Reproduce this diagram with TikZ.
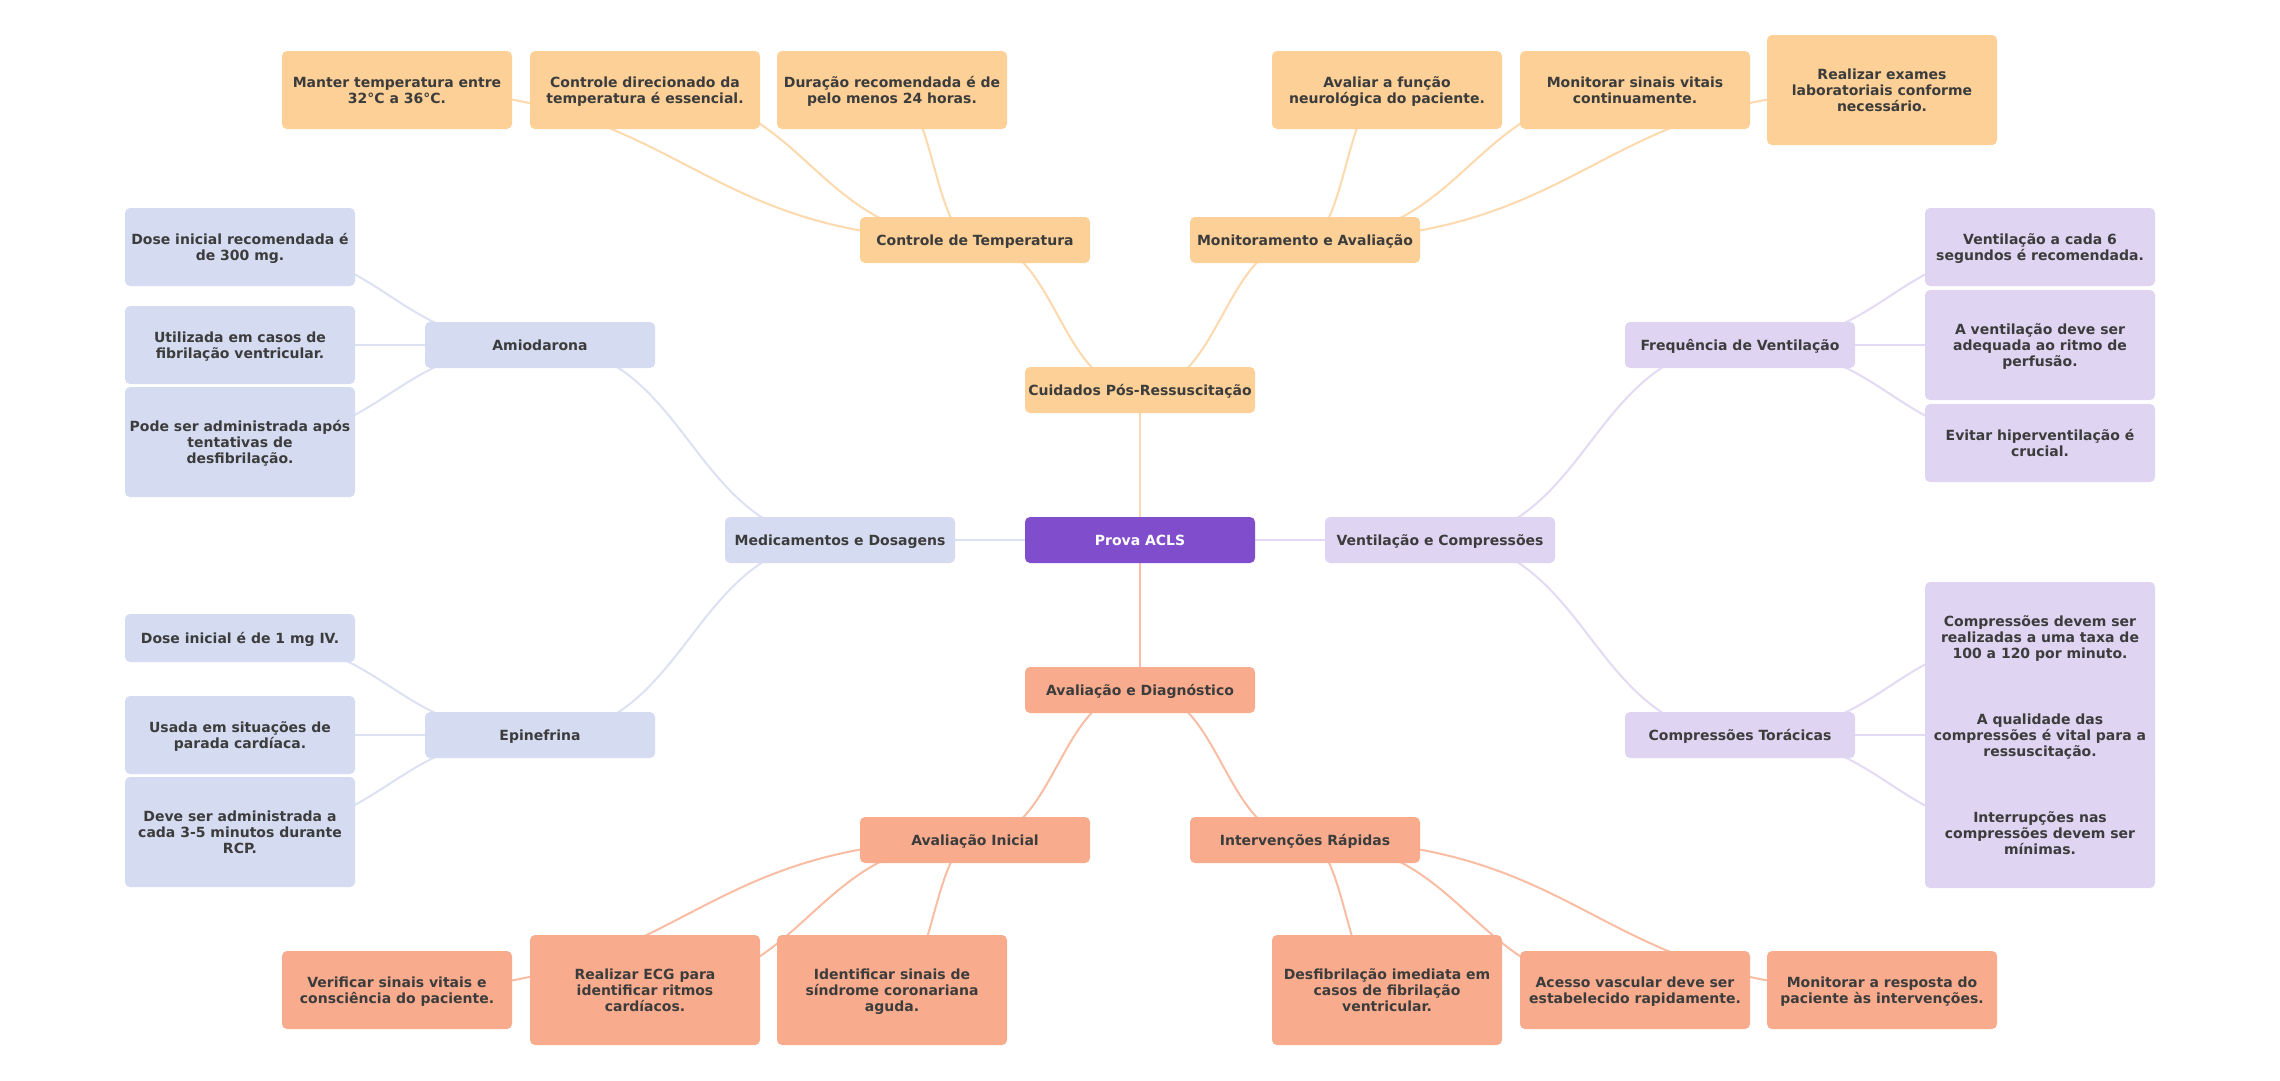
\documentclass[tikz,border=0pt]{standalone}
\usepackage{fontspec}
\setmainfont{DejaVu Sans}
\usetikzlibrary{backgrounds,calc}
\definecolor{rootc}{HTML}{804ECC}
\definecolor{orf}{HTML}{FCD096}
\definecolor{saf}{HTML}{F9AC8D}
\definecolor{blf}{HTML}{D5DCF1}
\definecolor{puf}{HTML}{DFD4F1}
\definecolor{orl}{HTML}{FDD9AD}
\definecolor{sal}{HTML}{F9BDA3}
\definecolor{bll}{HTML}{DCE1F3}
\definecolor{pul}{HTML}{E3DAF4}
\definecolor{txt}{HTML}{3C3C3C}
\tikzset{
  box/.style={rounded corners=5pt, minimum width=230pt, minimum height=46pt, align=center,
    inner sep=0pt, text depth=0pt, font=\fontsize{14}{16}\selectfont\bfseries, text=txt},
  rootbox/.style={box, fill=rootc, text=white},
  orbox/.style={box, fill=orf},
  sabox/.style={box, fill=saf},
  blbox/.style={box, fill=blf},
  pubox/.style={box, fill=puf},
  h2/.style={minimum height=78pt},
  h3/.style={minimum height=110pt},
  h1/.style={minimum height=48pt},
  conn/.style={line width=2pt},
}
\newcommand\mmlink[3]{%
  \path (#2.center) -- (#3.center) coordinate[pos=0.5] (lkm);
  \draw[conn,#1] (#2.center) .. controls (lkm |- #2.center) and (lkm |- #3.center) .. (#3.center);
}
\begin{document}
\begin{tikzpicture}[x=1pt,y=-1pt]
\useasboundingbox (0,0) rectangle (2280,1080);
% root and level 1
\node[rootbox] (R) at (1140,540) {Prova ACLS};
\node[orbox] (C1) at (1140,390) {Cuidados Pós-Ressuscitação};
\node[sabox] (C2) at (1140,690) {Avaliação e Diagnóstico};
\node[blbox] (C3) at (840,540) {Medicamentos e Dosagens};
\node[pubox] (C4) at (1440,540) {Ventilação e Compressões};
% level 2
\node[orbox] (T) at (975,240) {Controle de Temperatura};
\node[orbox] (M) at (1305,240) {Monitoramento e Avaliação};
\node[blbox] (A) at (540,345) {Amiodarona};
\node[blbox] (E) at (540,735) {Epinefrina};
\node[pubox] (F) at (1740,345) {Frequência de Ventilação};
\node[pubox] (K) at (1740,735) {Compressões Torácicas};
\node[sabox] (I) at (975,840) {Avaliação Inicial};
\node[sabox] (V) at (1305,840) {Intervenções Rápidas};
% leaves T
\node[orbox,h2] (T1) at (397,90) {Manter temperatura entre\\32°C a 36°C.};
\node[orbox,h2] (T2) at (645,90) {Controle direcionado da\\temperatura é essencial.};
\node[orbox,h2] (T3) at (892,90) {Duração recomendada é de\\pelo menos 24 horas.};
% leaves M
\node[orbox,h2] (M1) at (1387,90) {Avaliar a função\\neurológica do paciente.};
\node[orbox,h2] (M2) at (1635,90) {Monitorar sinais vitais\\continuamente.};
\node[orbox,h3] (M3) at (1882,90) {Realizar exames\\laboratoriais conforme\\necessário.};
% leaves A
\node[blbox,h2] (A1) at (240,247) {Dose inicial recomendada é\\de 300 mg.};
\node[blbox,h2] (A2) at (240,345) {Utilizada em casos de\\fibrilação ventricular.};
\node[blbox,h3] (A3) at (240,442) {Pode ser administrada após\\tentativas de\\desfibrilação.};
% leaves E
\node[blbox,h1] (E1) at (240,638) {Dose inicial é de 1 mg IV.};
\node[blbox,h2] (E2) at (240,735) {Usada em situações de\\parada cardíaca.};
\node[blbox,h3] (E3) at (240,832) {Deve ser administrada a\\cada 3-5 minutos durante\\RCP.};
% leaves F
\node[pubox,h2] (F1) at (2040,247) {Ventilação a cada 6\\segundos é recomendada.};
\node[pubox,h3] (F2) at (2040,345) {A ventilação deve ser\\adequada ao ritmo de\\perfusão.};
\node[pubox,h2] (F3) at (2040,443) {Evitar hiperventilação é\\crucial.};
% leaves K
\node[pubox,h3] (K1) at (2040,637) {Compressões devem ser\\realizadas a uma taxa de\\100 a 120 por minuto.};
\node[pubox,h3] (K3) at (2040,833) {Interrupções nas\\compressões devem ser\\mínimas.};
\node[pubox,h3] (K2) at (2040,735) {A qualidade das\\compressões é vital para a\\ressuscitação.};
% leaves I
\node[sabox,h2] (I1) at (397,990) {Verificar sinais vitais e\\consciência do paciente.};
\node[sabox,h3] (I2) at (645,990) {Realizar ECG para\\identificar ritmos\\cardíacos.};
\node[sabox,h3] (I3) at (892,990) {Identificar sinais de\\síndrome coronariana\\aguda.};
% leaves V
\node[sabox,h3] (V1) at (1387,990) {Desfibrilação imediata em\\casos de fibrilação\\ventricular.};
\node[sabox,h2] (V2) at (1635,990) {Acesso vascular deve ser\\estabelecido rapidamente.};
\node[sabox,h2] (V3) at (1882,990) {Monitorar a resposta do\\paciente às intervenções.};
\begin{pgfonlayer}{background}
\fill[white] (0,0) rectangle (2280,1080);
\mmlink{orl}{R}{C1}
\mmlink{sal}{R}{C2}
\mmlink{bll}{R}{C3}
\mmlink{pul}{R}{C4}
\mmlink{orl}{C1}{T}
\mmlink{orl}{C1}{M}
\mmlink{bll}{C3}{A}
\mmlink{bll}{C3}{E}
\mmlink{pul}{C4}{F}
\mmlink{pul}{C4}{K}
\mmlink{sal}{C2}{I}
\mmlink{sal}{C2}{V}
\mmlink{orl}{T}{T1}
\mmlink{orl}{T}{T2}
\mmlink{orl}{T}{T3}
\mmlink{orl}{M}{M1}
\mmlink{orl}{M}{M2}
\mmlink{orl}{M}{M3}
\mmlink{bll}{A}{A1}
\mmlink{bll}{A}{A2}
\mmlink{bll}{A}{A3}
\mmlink{bll}{E}{E1}
\mmlink{bll}{E}{E2}
\mmlink{bll}{E}{E3}
\mmlink{pul}{F}{F1}
\mmlink{pul}{F}{F2}
\mmlink{pul}{F}{F3}
\mmlink{pul}{K}{K1}
\mmlink{pul}{K}{K2}
\mmlink{pul}{K}{K3}
\mmlink{sal}{I}{I1}
\mmlink{sal}{I}{I2}
\mmlink{sal}{I}{I3}
\mmlink{sal}{V}{V1}
\mmlink{sal}{V}{V2}
\mmlink{sal}{V}{V3}
\end{pgfonlayer}
\end{tikzpicture}
\end{document}
